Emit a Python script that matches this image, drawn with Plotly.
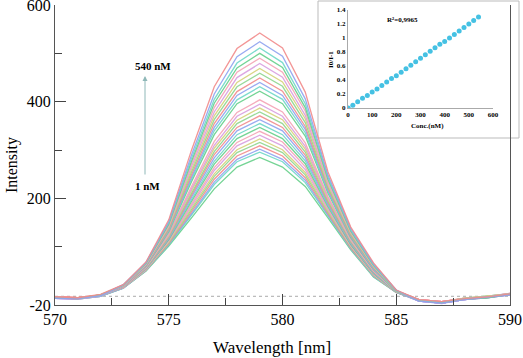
import plotly.graph_objects as go

# ---------------- data ----------------
wavelength = [570, 571, 572, 573, 574, 575, 576, 577, 578, 579, 580,
              581, 582, 583, 584, 585, 586, 587, 588, 589, 590]

i_1   = [-5, -7, -2, 15, 50, 102, 160, 220, 265, 285, 265, 225, 160, 94, 38, 6, -11, -16, -9, -4, 2]
i_20  = [-4, -6, -1, 15, 51, 104, 166, 229, 276, 296, 276, 233, 164, 96, 39, 6, -10, -14, -7, -3, 1]
i_40  = [-6, -8, -2, 15, 51, 106, 169, 234, 281, 302, 281, 238, 166, 97, 40, 6, -12, -17, -8, -2, 4]
i_60  = [-3, -5, 0, 16, 52, 107, 173, 240, 288, 309, 288, 243, 169, 98, 41, 6, -9, -13, -6, -3, 2]
i_80  = [-5, -7, -1, 16, 52, 109, 177, 246, 295, 316, 295, 249, 172, 100, 42, 7, -11, -15, -8, -4, 1]
i_100 = [-4, -6, 1, 16, 53, 110, 181, 251, 301, 323, 301, 254, 174, 101, 42, 7, -10, -14, -7, -2, 3]
i_120 = [-6, -7, -1, 16, 53, 112, 185, 258, 309, 331, 309, 260, 177, 102, 43, 7, -12, -16, -9, -5, 1]
i_140 = [-3, -6, 0, 16, 54, 113, 189, 264, 316, 339, 317, 266, 180, 104, 44, 7, -9, -13, -7, -3, 4]
i_160 = [-5, -8, -2, 17, 55, 115, 194, 271, 324, 347, 324, 272, 183, 105, 45, 7, -11, -15, -8, -4, 2]
i_180 = [-4, -6, 0, 17, 55, 117, 198, 277, 332, 355, 332, 278, 186, 107, 46, 7, -10, -14, -6, -2, 3]
i_200 = [-6, -7, -1, 17, 56, 118, 203, 284, 340, 363, 340, 284, 189, 108, 47, 8, -12, -16, -9, -4, 1]
i_220 = [-3, -5, 1, 17, 56, 120, 207, 291, 347, 371, 347, 290, 192, 110, 48, 8, -9, -13, -7, -3, 3]
i_240 = [-5, -7, -1, 18, 57, 122, 211, 297, 355, 379, 355, 296, 195, 111, 49, 8, -11, -15, -8, -5, 2]
i_260 = [-4, -6, 0, 18, 58, 123, 216, 304, 362, 387, 363, 302, 198, 113, 50, 8, -10, -14, -7, -3, 2]
i_280 = [-6, -8, -2, 18, 58, 125, 220, 310, 370, 395, 370, 308, 201, 114, 50, 8, -12, -16, -9, -4, 1]
i_300 = [-3, -6, 1, 18, 59, 127, 225, 318, 378, 404, 379, 315, 204, 116, 51, 8, -9, -13, -6, -2, 4]
i_320 = [-5, -7, 0, 19, 60, 131, 235, 332, 396, 422, 396, 329, 211, 119, 53, 9, -11, -15, -8, -4, 2]
i_340 = [-4, -6, 1, 19, 61, 133, 240, 340, 404, 431, 405, 336, 214, 121, 54, 9, -10, -14, -7, -3, 3]
i_360 = [-6, -7, -1, 19, 61, 135, 244, 347, 413, 440, 413, 343, 217, 122, 55, 9, -12, -16, -9, -5, 1]
i_380 = [-3, -5, 0, 19, 62, 136, 249, 355, 421, 449, 422, 349, 221, 124, 57, 9, -9, -13, -7, -3, 3]
i_400 = [-5, -7, -1, 20, 63, 139, 255, 363, 431, 459, 432, 357, 224, 126, 58, 9, -11, -15, -8, -4, 2]
i_420 = [-4, -6, 1, 20, 64, 141, 260, 371, 440, 469, 441, 365, 228, 128, 59, 10, -10, -14, -6, -2, 3]
i_440 = [-6, -8, -1, 20, 64, 143, 266, 379, 450, 479, 451, 372, 232, 130, 60, 10, -12, -16, -9, -4, 1]
i_460 = [-3, -6, 0, 21, 65, 145, 272, 388, 461, 490, 461, 381, 236, 132, 61, 10, -9, -13, -7, -3, 4]
i_480 = [-5, -7, 1, 21, 66, 147, 277, 397, 470, 500, 471, 388, 240, 133, 62, 10, -11, -15, -8, -5, 2]
i_500 = [-4, -6, 0, 21, 67, 150, 283, 405, 480, 511, 481, 396, 244, 135, 63, 10, -10, -14, -7, -3, 3]
i_520 = [-6, -7, -1, 22, 68, 152, 290, 416, 493, 524, 494, 406, 248, 138, 65, 11, -12, -16, -9, -4, 1]
i_540 = [-3, -5, 2, 22, 69, 156, 300, 431, 510, 542, 511, 420, 255, 141, 67, 11, -9, -13, -7, -3, 3]

spectra = [i_1, i_20, i_40, i_60, i_80, i_100, i_120, i_140, i_160, i_180,
           i_200, i_220, i_240, i_260, i_280, i_300, i_320, i_340, i_360,
           i_380, i_400, i_420, i_440, i_460, i_480, i_500, i_520, i_540]

conc = [1, 20, 40, 60, 80, 100, 120, 140, 160, 180, 200, 220, 240, 260,
        280, 300, 320, 340, 360, 380, 400, 420, 440, 460, 480, 500, 520, 540]
ratio = [0.00, 0.04, 0.09, 0.14, 0.18, 0.23, 0.27, 0.32, 0.37, 0.42, 0.46,
         0.51, 0.56, 0.61, 0.66, 0.71, 0.76, 0.81, 0.86, 0.91, 0.95, 1.00,
         1.05, 1.10, 1.15, 1.20, 1.25, 1.30]

x_ticks = [570, 575, 580, 585, 590]
y_ticks = [-20, 200, 400, 600]
y_tick_text = ["-20", "200", "400", "600"]

# colour cycle, starting from the lowest (1 nM) curve
palette = ['#66d08a', '#6fd8c8', '#8fa3f0', '#f28b8b', '#8fd68f',
           '#d6d27a', '#d99ee0', '#f5a3b5']

SERIF = "Liberation Serif, Times New Roman, serif"

# ---------------- figure ----------------
fig = go.Figure()
for k, (c, s) in enumerate(zip(conc, spectra)):
    color = palette[k % len(palette)]
    fig.add_trace(go.Scatter(x=wavelength, y=s, mode='lines', name=f'{c} nM',
                             line=dict(color=color, width=1.3), opacity=0.9,
                             hoverinfo='skip'))

fig.add_trace(go.Scatter(x=conc, y=ratio, mode='markers', xaxis='x2', yaxis='y2',
                         marker=dict(color='#45c1e3', size=5), hoverinfo='skip'))

W, H = 523, 358
L, R, T, B = 55, 13, 5, 53
PW, PH = W - L - R, H - T - B


def px(X):
    return (X - L) / PW


def py(Y):
    return (H - B - Y) / PH


fig.update_layout(
    width=W, height=H, margin=dict(l=L, r=R, t=T, b=B, autoexpand=False),
    plot_bgcolor='white', paper_bgcolor='white', showlegend=False,
    font=dict(family=SERIF, color='black'),
    xaxis=dict(range=[570, 590], tickvals=x_ticks, ticks='inside', ticklen=11,
               tickcolor='#444', showline=True, linecolor='#555', linewidth=1,
               showgrid=False, zeroline=False, automargin=False,
               ticklabeloverflow='allow', ticklabelstandoff=0,
               tickfont=dict(family=SERIF, size=16, color='black'),
               minor=dict(tickvals=[572.5, 577.5, 582.5, 587.5], ticks='inside',
                          ticklen=7, tickcolor='#444')),
    yaxis=dict(range=[-20, 600], tickvals=y_ticks, ticktext=y_tick_text,
               ticks='inside', ticklen=11, tickcolor='#444', showline=True,
               linecolor='#555', linewidth=1, mirror=True, showgrid=False,
               zeroline=False, automargin=False, ticklabeloverflow='allow',
               ticklabelshift=0,
               tickfont=dict(family=SERIF, size=16, color='black'),
               minor=dict(tickvals=[100, 300, 500], ticks='inside', ticklen=7,
                          tickcolor='#444')),
    xaxis2=dict(domain=[px(348), px(493)], anchor='y2', range=[0, 600], dtick=100,
                showline=True, linecolor='#aaa', showgrid=False, zeroline=False,
                automargin=False, ticks='',
                tickfont=dict(family=SERIF, size=7, weight='bold')),
    yaxis2=dict(domain=[py(108), py(10)], anchor='x2', range=[0, 1.4], dtick=0.2,
                showline=True, linecolor='#aaa', showgrid=False, zeroline=False,
                automargin=False, ticks='',
                tickfont=dict(family=SERIF, size=7, weight='bold')),
)

fig.add_shape(type='rect', xref='paper', yref='paper', x0=px(318), x1=px(519),
              y0=py(138), y1=py(1), line=dict(color='#bbbbbb', width=1),
              fillcolor='white', layer='below')
fig.add_shape(type='line', xref='x', yref='y', x0=570, x1=590, y0=-2, y1=-2,
              line=dict(color='#aaaaaa', width=1, dash='dot'), layer='below')

ann = [
    dict(text='Intensity', x=px(12), y=py(165), textangle=-90, size=16, bold=False),
    dict(text='Wavelength [nm]', x=px(272), y=py(347), size=17, bold=False),
    dict(text='540 nM', x=px(153), y=py(66), size=11, bold=True),
    dict(text='1 nM', x=px(147), y=py(186), size=11, bold=True),
    dict(text='R²=0,9965', x=px(402), y=py(20), size=7, bold=True),
    dict(text='Conc.(nM)', x=px(427), y=py(126), size=7, bold=True),
    dict(text='I0/I-1', x=px(331), y=py(60), textangle=-90, size=7, bold=True),
]
for a in ann:
    fig.add_annotation(text=a['text'], x=a['x'], y=a['y'], xref='paper', yref='paper',
                       xanchor='center', yanchor='middle',
                       showarrow=False, textangle=a.get('textangle', 0),
                       font=dict(family=SERIF, size=a['size'], color='black',
                                 weight='bold' if a['bold'] else 'normal'))

fig.add_annotation(text='', x=px(145), y=py(76), xref='paper', yref='paper',
                   showarrow=True, ax=0, ay=100, arrowhead=2, arrowsize=1,
                   arrowwidth=1, arrowcolor='#8fb8b8')

fig.write_html("out.html", config={'displayModeBar': False},
               post_script="document.body.style.margin='0px';")
